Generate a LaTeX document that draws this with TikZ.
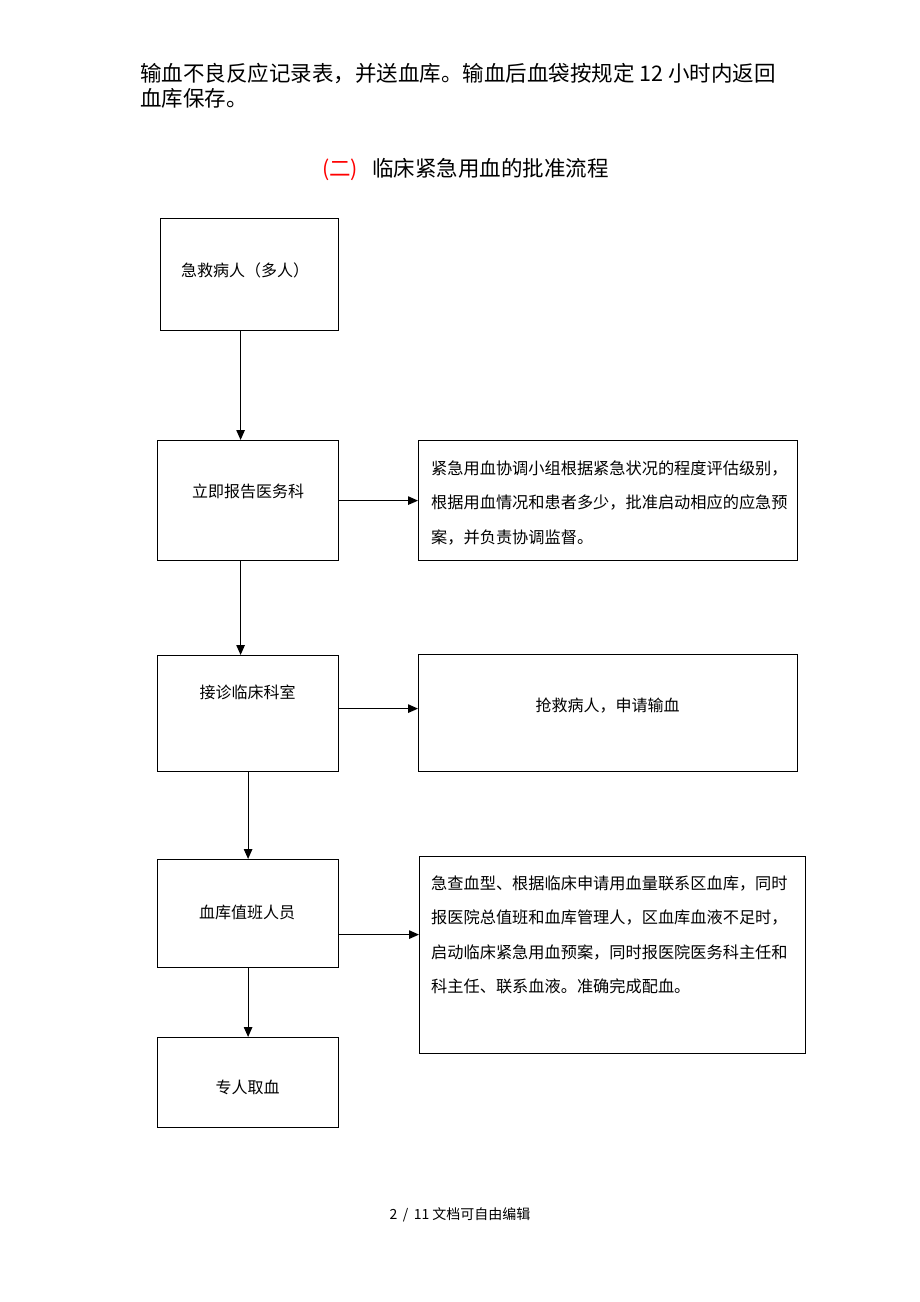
\documentclass[tikz,border=0pt]{standalone}
\usepackage{fontspec}
\newfontfamily\cjk{Noto Sans CJK SC}
\usetikzlibrary{arrows.meta,positioning}
\tikzset{
    box/.style={draw, line width=1.2pt, anchor=north west, inner sep=0pt},
    txt/.style={font=\cjk\fontsize{16}{19}\selectfont, inner sep=0pt},
    para/.style={font=\cjk\fontsize{16.2}{34.5}\selectfont, align=left, anchor=west, inner sep=0pt},
    arr/.style={-{Triangle[length=10pt,width=8.5pt]}, line width=1.2pt}
}

\begin{document}
\begin{tikzpicture}[x=1pt,y=-1pt]
    \path[use as bounding box, fill=white] (0,0) rectangle (920,1302);
    \node (P) [anchor=north west, font=\cjk\fontsize{21.5}{25}\selectfont, align=left, inner sep=0pt] at (140,63) {输血不良反应记录表，并送血库。输血后血袋按规定 12 小时内返回\\血库保存。};
    \node (T) [anchor=west, font=\cjk\fontsize{21.5}{25}\selectfont, inner sep=0pt] at (322,170) {\textcolor{red}{(二)}\hspace{14pt}临床紧急用血的批准流程};
    % left column
    \node (A) [box, minimum width=178pt, minimum height=112pt] at (160,218) {};
    \node (B) [box, minimum width=181pt, minimum height=120pt] at (157,440) {};
    \node (C) [box, minimum width=181pt, minimum height=116pt] at (157,655) {};
    \node (D) [box, minimum width=181pt, minimum height=108pt] at (157,859) {};
    \node (E) [box, minimum width=181pt, minimum height=90pt] at (157,1037) {};
    % right column
    \node (F) [box, minimum width=379pt, minimum height=120pt] at (418,440) {};
    \node (G) [box, minimum width=379pt, minimum height=117pt] at (418,654) {};
    \node (H) [box, minimum width=386pt, minimum height=197pt] at (419,856) {};
    \node (A1) [txt] at (245,270) {急救病人（多人）};
    \node (B1) [txt] at (248,491) {立即报告医务科};
    \node (C1) [txt] at (247.5,692) {接诊临床科室};
    \node (D1) [txt] at (247,912) {血库值班人员};
    \node (E1) [txt] at (247.5,1087) {专人取血};
    \node (F1) [para] at (431,503) {紧急用血协调小组根据紧急状况的程度评估级别，\\根据用血情况和患者多少，批准启动相应的应急预\\案，并负责协调监督。};
    \node (G1) [txt] at (607.5,706) {抢救病人，申请输血};
    \node (H1) [para] at (431,935) {急查血型、根据临床申请用血量联系区血库，同时\\报医院总值班和血库管理人，区血库血液不足时，\\启动临床紧急用血预案，同时报医院医务科主任和\\科主任、联系血液。准确完成配血。};
    \draw[arr] ([xshift=-9pt]A.south) -- ([xshift=-9pt]A.south |- B.north);
    \draw[arr] ([xshift=-7.5pt]B.south) -- ([xshift=-7.5pt]B.south |- C.north);
    \draw[arr] (C.south) -- (C.south |- D.north);
    \draw[arr] (D.south) -- (E.north);
    \draw[arr] (B.east) -- (B.east -| F.west);
    \draw[arr] ([yshift=5pt]C.east) -- ([yshift=5pt]C.east -| G.west);
    \draw[arr] ([yshift=-21pt]D.east) -- ([yshift=-21pt]D.east -| H.west);
    \node (N) [font=\cjk\fontsize{14}{16}\selectfont] at (460,1215) {2 \,/\, 11 文档可自由编辑};
\end{tikzpicture}
\end{document}
